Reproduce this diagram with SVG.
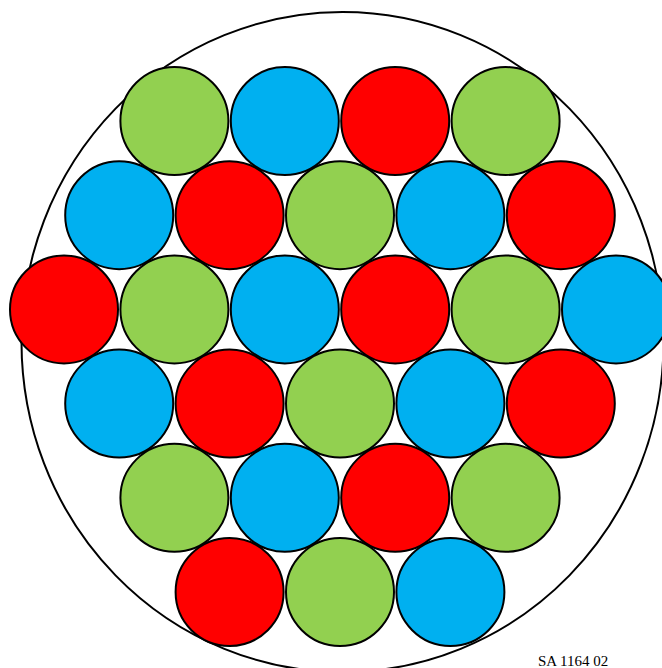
<svg xmlns="http://www.w3.org/2000/svg" width="662" height="668" viewBox="0 0 662 668">
<style>
.c{stroke:#000;stroke-width:2}
.g{fill:#92D050}.b{fill:#00B0F0}.r{fill:#FF0000}
</style>
<rect width="662" height="668" fill="#fff"/>
<g id="outer"><ellipse cx="342.5" cy="342" rx="321" ry="330" fill="none" stroke="#000" stroke-width="2"/></g>
<g id="row1">
<circle class="c g" cx="174.4" cy="121" r="54"/>
<circle class="c b" cx="284.8" cy="121" r="54"/>
<circle class="c r" cx="395.2" cy="121" r="54"/>
<circle class="c g" cx="505.6" cy="121" r="54"/>
</g>
<g id="row2">
<circle class="c b" cx="119.2" cy="215.2" r="54"/>
<circle class="c r" cx="229.6" cy="215.2" r="54"/>
<circle class="c g" cx="340" cy="215.2" r="54"/>
<circle class="c b" cx="450.4" cy="215.2" r="54"/>
<circle class="c r" cx="560.8" cy="215.2" r="54"/>
</g>
<g id="row3">
<circle class="c r" cx="64" cy="309.4" r="54"/>
<circle class="c g" cx="174.4" cy="309.4" r="54"/>
<circle class="c b" cx="284.8" cy="309.4" r="54"/>
<circle class="c r" cx="395.2" cy="309.4" r="54"/>
<circle class="c g" cx="505.6" cy="309.4" r="54"/>
<circle class="c b" cx="616" cy="309.4" r="54"/>
</g>
<g id="row4">
<circle class="c b" cx="119.2" cy="403.6" r="54"/>
<circle class="c r" cx="229.6" cy="403.6" r="54"/>
<circle class="c g" cx="340" cy="403.6" r="54"/>
<circle class="c b" cx="450.4" cy="403.6" r="54"/>
<circle class="c r" cx="560.8" cy="403.6" r="54"/>
</g>
<g id="row5">
<circle class="c g" cx="174.4" cy="497.8" r="54"/>
<circle class="c b" cx="284.8" cy="497.8" r="54"/>
<circle class="c r" cx="395.2" cy="497.8" r="54"/>
<circle class="c g" cx="505.6" cy="497.8" r="54"/>
</g>
<g id="row6">
<circle class="c r" cx="229.6" cy="592" r="54"/>
<circle class="c g" cx="340" cy="592" r="54"/>
<circle class="c b" cx="450.4" cy="592" r="54"/>
</g>
<g id="label"><text x="538" y="666" font-family="Liberation Serif, serif" font-size="15" fill="#000">SA 1164 02</text></g>
</svg>
